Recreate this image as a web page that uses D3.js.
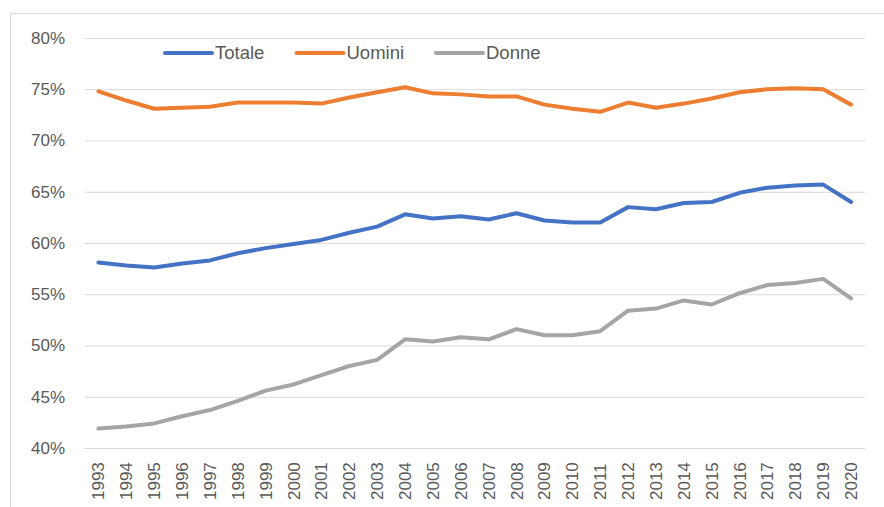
<!DOCTYPE html>
<html>
<head>
<meta charset="utf-8">
<script src="https://cdn.jsdelivr.net/npm/d3@7"></script>
<style>
  body { margin: 0; background: #fff; }
  svg { display: block; font-family: "Liberation Sans", Arial, sans-serif; }
</style>
</head>
<body>
<div id="chart"></div>
<script>
(function() {
    // anni
    let years = [];
    for (let y = 1993; y <= 2020; y++) years.push(String(y));

    // valori (%)
    let totale = [58.1, 57.8, 57.6, 58.0, 58.3, 59.0, 59.5, 59.9, 60.3, 61.0, 61.6, 62.8, 62.4, 62.6, 62.3, 62.9, 62.2, 62.0, 62.0, 63.5, 63.3, 63.9, 64.0, 64.9, 65.4, 65.6, 65.7, 64.0];
    let uomini = [74.8, 73.9, 73.1, 73.2, 73.3, 73.7, 73.7, 73.7, 73.6, 74.2, 74.7, 75.2, 74.6, 74.5, 74.3, 74.3, 73.5, 73.1, 72.8, 73.7, 73.2, 73.6, 74.1, 74.7, 75.0, 75.1, 75.0, 73.5];
    let donne = [41.9, 42.1, 42.4, 43.1, 43.7, 44.6, 45.6, 46.2, 47.1, 48.0, 48.6, 50.6, 50.4, 50.8, 50.6, 51.6, 51.0, 51.0, 51.4, 53.4, 53.6, 54.4, 54.0, 55.1, 55.9, 56.1, 56.5, 54.6];
    let yTicks = [40, 45, 50, 55, 60, 65, 70, 75, 80];

    let series = [
        { name: 'Totale', values: totale, color: '#4472C4' },
        { name: 'Uomini', values: uomini, color: '#ED7D31' },
        { name: 'Donne', values: donne, color: '#A5A5A5' }
    ];

    let W = 884, H = 507;
    let svg = d3.select('#chart')
        .append('svg')
        .attr('width', W)
        .attr('height', H);

    // bordo dell'area grafico
    svg.append('path')
        .attr('d', 'M10.5,507 V13.5 H884')
        .attr('fill', 'none')
        .attr('stroke', '#d9d9d9')
        .attr('stroke-width', 1);

    let x = d3.scalePoint()
        .domain(years)
        .range([84.5, 865])
        .padding(0.5);

    let y = d3.scaleLinear()
        .domain([40, 80])
        .range([448, 38]);

    // griglia + etichette asse y
    let yAxis = svg.append('g')
        .attr('transform', 'translate(84.5,0)')
        .call(d3.axisLeft(y)
            .tickValues(yTicks)
            .tickSize(-(865 - 84.5))
            .tickPadding(19.5)
            .tickFormat(d => d + '%'));
    yAxis.select('.domain').remove();
    yAxis.selectAll('.tick line')
        .attr('stroke', '#d9d9d9')
        .attr('stroke-width', 1.2);
    yAxis.selectAll('.tick text')
        .attr('fill', '#595959')
        .style('font-size', '17px')
        .style('font-family', '"Liberation Sans", Arial, sans-serif');

    // etichette asse x (ruotate)
    svg.append('g')
        .selectAll('text')
        .data(years)
        .enter()
        .append('text')
        .attr('transform', d => 'translate(' + x(d) + ',500) rotate(-90)')
        .attr('dy', '0.35em')
        .attr('text-anchor', 'start')
        .attr('fill', '#595959')
        .style('font-size', '17px')
        .text(d => d);

    let line = d3.line()
        .x((d, i) => x(years[i]))
        .y(d => y(d));

    svg.selectAll('.serie')
        .data(series)
        .enter()
        .append('path')
        .attr('class', 'serie')
        .attr('d', d => line(d.values))
        .attr('fill', 'none')
        .attr('stroke', d => d.color)
        .attr('stroke-width', 4)
        .attr('stroke-linejoin', 'round')
        .attr('stroke-linecap', 'round');

    // legenda
    let legendX = [165, 296.5, 436];
    let leg = svg.selectAll('.leg')
        .data(series)
        .enter()
        .append('g')
        .attr('class', 'leg')
        .attr('transform', (d, i) => 'translate(' + legendX[i] + ',53)');
    leg.append('line')
        .attr('x1', 0)
        .attr('x2', 47)
        .attr('stroke', d => d.color)
        .attr('stroke-width', 4)
        .attr('stroke-linecap', 'round');
    leg.append('text')
        .attr('x', 50)
        .attr('dy', '0.35em')
        .attr('fill', '#595959')
        .style('font-size', '18.5px')
        .text(d => d.name);
})();
</script>
</body>
</html>
